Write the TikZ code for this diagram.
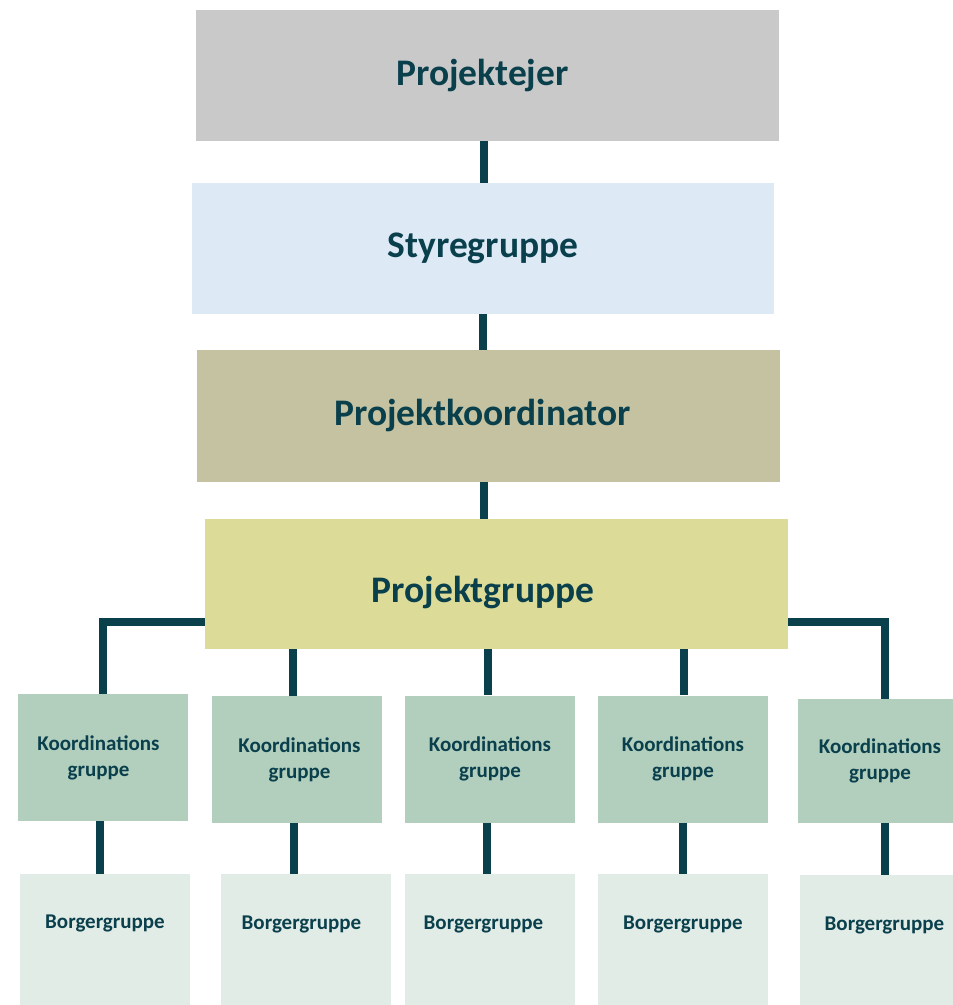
\documentclass[tikz,border=0pt]{standalone}
\usepackage{fontspec}
\setmainfont{Carlito}
\definecolor{ink}{HTML}{0A3F4C}
\definecolor{cgray}{HTML}{C9C9C9}
\definecolor{cblue}{HTML}{DDEAF6}
\definecolor{colive}{HTML}{C4C2A0}
\definecolor{cyellow}{HTML}{DCDC98}
\definecolor{cgreen}{HTML}{B2CFBE}
\definecolor{cpale}{HTML}{E2ECE7}
\newcommand{\tl}[2]{#2\hspace*{#1}}
\newcommand{\tr}[2]{\hspace*{#1}#2}
\begin{document}
\begin{tikzpicture}[x=1pt,y=-1pt,
  bigbox/.style={rectangle,inner sep=0pt,minimum width=583pt,minimum height=131pt,text=ink,font=\bfseries\fontsize{37.5}{44}\selectfont},
  kbox/.style={rectangle,inner sep=0pt,minimum width=170pt,minimum height=127pt,fill=cgreen,text=ink,align=center,font=\bfseries\fontsize{21}{26}\selectfont},
  bbox/.style={rectangle,inner sep=0pt,minimum width=170pt,minimum height=131pt,fill=cpale,text=ink,text height=15pt,text depth=36pt,font=\bfseries\fontsize{21}{24}\selectfont},
  conn/.style={draw=ink,line width=8pt}]
\useasboundingbox (0,0) rectangle (953,1005);
\fill[white] (0,0) rectangle (953,1005);
\node[bigbox,fill=cgray] (pe) at (487.5,75.5) {\tl{10pt}{Projektejer}};
\node[bigbox,fill=cblue,minimum width=582pt,text height=26pt,text depth=8pt] (sg) at (483,248.5) {Styregruppe};
\node[bigbox,fill=colive,minimum height=132pt] (pk) at (488,416) {\tl{11pt}{Projektkoordinator}};
\node[bigbox,fill=cyellow,minimum height=130pt,text height=40pt,text depth=4pt] (pg) at (496.5,584) {\tl{27pt}{Projektgruppe}};
\node[kbox] (k1) at (103,757.5) {\tl{9pt}{Koordinations}\\\tl{9pt}{gruppe}};
\node[kbox] (k2) at (297,759.5) {\tr{5pt}{Koordinations}\\\tr{5pt}{gruppe}};
\node[kbox] (k3) at (490,759) {Koordinations\\gruppe};
\node[kbox] (k4) at (683,759) {Koordinations\\gruppe};
\node[kbox,minimum width=155pt,minimum height=124pt] (k5) at (875.5,761) {\tr{9pt}{Koordinations}\\\tr{9pt}{gruppe}};
\node[bbox,text depth=38pt] (b1) at (105,939.5) {Borgergruppe};
\node[bbox] (b2) at (306,939.5) {\tl{9pt}{Borgergruppe}};
\node[bbox] (b3) at (490,939.5) {\tl{13pt}{Borgergruppe}};
\node[bbox] (b4) at (683,939.5) {Borgergruppe};
\node[bbox,minimum width=153pt,minimum height=130pt,text depth=34pt] (b5) at (876.5,940) {\tr{16pt}{Borgergruppe}};
% connectors
\draw[conn] (pe.south -| 484,0) -- (sg.north -| 484,0);
\draw[conn] (sg.south -| 483,0) -- (pk.north -| 483,0);
\draw[conn] (pk.south -| 484,0) -- (pg.north -| 484,0);
\draw[conn] (pg.west |- 0,622) -| (k1.north);
\draw[conn] (pg.east |- 0,622) -| (k5.north -| 885,0);
\draw[conn] (pg.south -| 293,0) -- (k2.north -| 293,0);
\draw[conn] (pg.south -| 488,0) -- (k3.north -| 488,0);
\draw[conn] (pg.south -| 684,0) -- (k4.north -| 684,0);
\draw[conn] (k1.south -| 100,0) -- (b1.north -| 100,0);
\draw[conn] (k2.south -| 294,0) -- (b2.north -| 294,0);
\draw[conn] (k3.south -| 487,0) -- (b3.north -| 487,0);
\draw[conn] (k4.south -| 683,0) -- (b4.north -| 683,0);
\draw[conn] (k5.south -| 885,0) -- (b5.north -| 885,0);
\end{tikzpicture}
\end{document}
